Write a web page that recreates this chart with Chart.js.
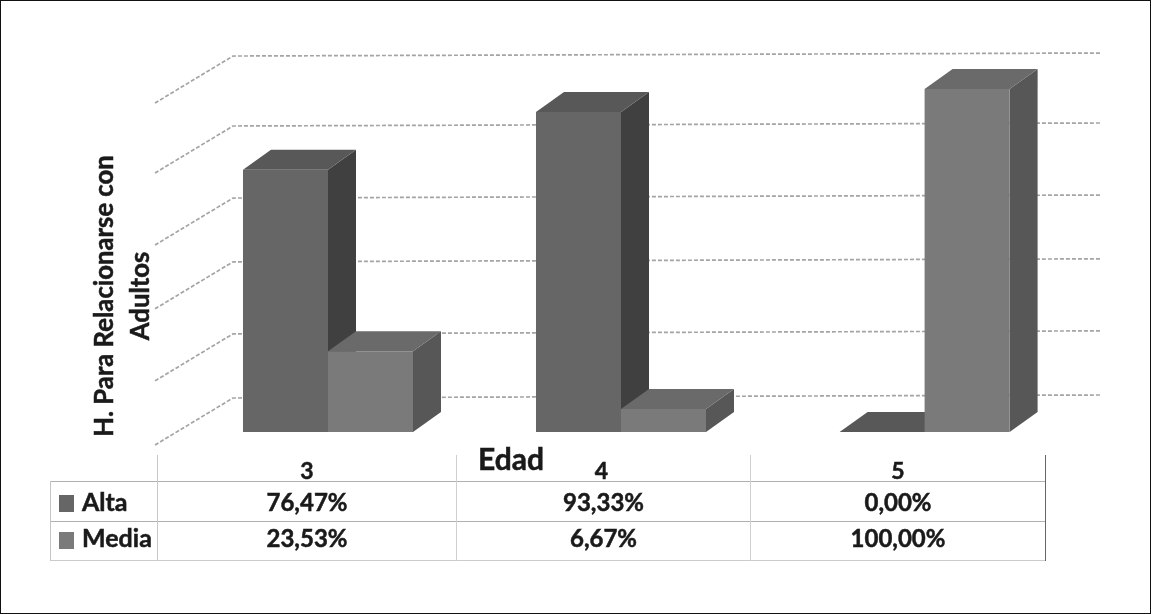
<!DOCTYPE html>
<html><head><meta charset="utf-8">
<style>html,body{margin:0;padding:0;background:#fff}canvas{display:block}</style>
<script src="https://cdn.jsdelivr.net/npm/chart.js@4/dist/chart.umd.min.js"></script>
</head><body><canvas id="c" width="1151" height="614"></canvas>
<script>
const categories = ['3', '4', '5'];
const seriesNames = ['Alta', 'Media'];
const alta = [76.47, 93.33, 0];
const media = [23.53, 6.67, 100];
const altaLabels = ['76,47%', '93,33%', '0,00%'];
const mediaLabels = ['23,53%', '6,67%', '100,00%'];
const gridLevels = [0, 18.7, 39.7, 58.3, 79.3, 99.7];
const axisTitleY = ['H. Para Relacionarse con', 'Adultos'];
const axisTitleX = 'Edad';

const FONT = 'Lato, sans-serif';
const frontCol = ['#666666', '#7a7a7a'];
const topCol = ['#585858', '#6a6a6a'];
const sideCol = ['#404040', '#575757'];
const DX = 28, DY = -20;
const catNudge = [0, -5, 0.6];

function text(ctx, s, x, y, size, align) {
  ctx.font = 'bold ' + size + 'px ' + FONT;
  ctx.textAlign = align || 'center';
  ctx.textBaseline = 'middle';
  ctx.fillStyle = '#1a1a1a';
  ctx.strokeStyle = '#1a1a1a';
  ctx.lineWidth = 0.5;
  ctx.fillText(s, x, y);
  ctx.strokeText(s, x, y);
}
function poly(ctx, pts, col) {
  ctx.fillStyle = col;
  ctx.beginPath();
  pts.forEach((p, i) => i ? ctx.lineTo(p[0], p[1]) : ctx.moveTo(p[0], p[1]));
  ctx.closePath();
  ctx.fill();
}

const scene = {
  id: 'scene',
  afterDatasetsUpdate(chart) {
    [0, 1].forEach(d => chart.getDatasetMeta(d).data.forEach((el, i) => { el.x += catNudge[i]; }));
  },
  beforeDatasetsDraw(chart) {
    const ctx = chart.ctx, y = chart.scales.y;
    ctx.save();
    // walls: dashed level lines
    ctx.strokeStyle = '#a4a4a4';
    ctx.lineWidth = 1.7;
    ctx.setLineDash([4, 2]);
    gridLevels.forEach(v => {
      const p = y.getPixelForValue(v) - 34;
      ctx.beginPath();
      ctx.moveTo(155, p + 47);
      ctx.lineTo(233, p);
      ctx.lineTo(1100, p - 3);
      ctx.stroke();
    });
    ctx.setLineDash([]);
    // extruded faces
    [0, 1].forEach(d => {
      chart.getDatasetMeta(d).data.forEach(el => {
        const l = el.x - el.width / 2, r = el.x + el.width / 2, t = el.y, b = el.base;
        poly(ctx, [[r, t], [r + DX, t + DY], [r + DX, b + DY], [r, b]], sideCol[d]);
        poly(ctx, [[l, t], [r, t], [r + DX, t + DY], [l + DX, t + DY]], topCol[d]);
      });
    });
    ctx.restore();
  },
  afterDraw(chart) {
    const ctx = chart.ctx;
    ctx.save();
    // outer frame
    ctx.strokeStyle = '#111';
    ctx.lineWidth = 1;
    ctx.strokeRect(0.5, 0.5, 1150, 613);
    // data table
    const cols = [157.5, 456.5, 750.5, 1045.5];
    const hl = (yy, c) => { ctx.strokeStyle = c; ctx.lineWidth = 1; ctx.beginPath(); ctx.moveTo(50, yy); ctx.lineTo(1046, yy); ctx.stroke(); };
    hl(481.5, '#b0b0b0'); hl(521.5, '#b0b0b0'); hl(560.5, '#cccccc');
    const vl = (xx, a, c) => { ctx.strokeStyle = c; ctx.lineWidth = 1; ctx.beginPath(); ctx.moveTo(xx, a); ctx.lineTo(xx, 561); ctx.stroke(); };
    vl(50.5, 481, '#c4c4c4');
    vl(cols[0], 455, '#c8c8c8'); vl(cols[1], 455, '#d0d0d0'); vl(cols[2], 455, '#d0d0d0'); vl(cols[3], 455, '#666666');
    const centers = [0, 1, 2].map(i => (cols[i] + cols[i + 1]) / 2);
    categories.forEach((c, i) => {
      text(ctx, c, centers[i] - (i === 1 ? 2 : 0), 472, 23);
      text(ctx, altaLabels[i], centers[i], 503, 24);
      text(ctx, mediaLabels[i], centers[i], 539, 24);
    });
    [[503, 495], [539, 532]].forEach((r, d) => {
      ctx.fillStyle = frontCol[d];
      ctx.fillRect(59, r[1], 15, 17);
      text(ctx, seriesNames[d], 82, r[0], 25, 'left');
    });
    // axis titles
    text(ctx, axisTitleX, 511, 460, 30);
    ctx.translate(0, 296);
    ctx.rotate(-Math.PI / 2);
    text(ctx, axisTitleY[0], 0, 105, 25.7);
    text(ctx, axisTitleY[1], 0, 141, 25.7);
    ctx.restore();
  }
};

new Chart(document.getElementById('c'), {
  type: 'bar',
  data: {
    labels: categories,
    datasets: [
      { label: seriesNames[0], data: alta, backgroundColor: frontCol[0] },
      { label: seriesNames[1], data: media, backgroundColor: frontCol[1] }
    ]
  },
  options: {
    responsive: false,
    animation: false,
    events: [],
    layout: { padding: { left: 179, right: 78, top: 89, bottom: 182 } },
    categoryPercentage: 0.5705,
    barPercentage: 1,
    plugins: { legend: { display: false }, tooltip: { enabled: false }, title: { display: false } },
    scales: {
      x: { display: false },
      y: { display: false, min: 0, max: 100, ticks: { stepSize: 20 } }
    }
  },
  plugins: [scene]
});
</script></body></html>
